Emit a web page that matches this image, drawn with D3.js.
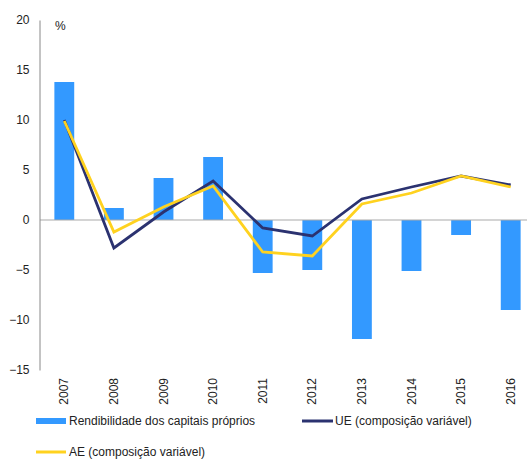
<!DOCTYPE html>
<html>
<head>
  <meta charset="utf-8" />
  <title>Rendibilidade</title>
  <script type="text/javascript" src="https://cdn.jsdelivr.net/npm/d3@7"></script>
  <style type="text/css">
  body {
    margin: 0;
    font-family: Arial, "Liberation Sans", sans-serif;
    font-size: 12px;
  }
  text { fill: #222; }
  </style>
</head>
<body>
  <script type="text/javascript">
    var years = ['2007', '2008', '2009', '2010', '2011', '2012', '2013', '2014', '2015', '2016']
    var rcp = [13.8, 1.2, 4.2, 6.3, -5.3, -5.0, -11.9, -5.1, -1.5, -9.0]
    var ue = [10.0, -2.8, 0.8, 3.9, -0.8, -1.6, 2.1, 3.3, 4.4, 3.5]
    var ae = [9.9, -1.2, 1.3, 3.4, -3.2, -3.6, 1.6, 2.7, 4.4, 3.3]
    var yTicks = [-15, -10, -5, 0, 5, 10, 15, 20]
    var names = ['Rendibilidade dos capitais próprios', 'UE (composição variável)', 'AE (composição variável)']

    var w = 527, h = 459

    var x = d3.scaleBand().domain(years).range([39.5, 535.5]).paddingInner(0.6).paddingOuter(0.3),
        y = d3.scaleLinear().domain([-15, 20]).range([370, 20])

    var svg = d3.select(document.body)
      .append('svg')
      .attr('width', w)
      .attr('height', h)

    // bars
    svg.selectAll('rect.bar')
      .data(rcp)
    .enter().append('rect')
      .attr('class', 'bar')
      .attr('x', function(d, i) { return x(years[i]) })
      .attr('width', x.bandwidth())
      .attr('y', function(d) { return y(Math.max(0, d)) })
      .attr('height', function(d) { return Math.abs(y(d) - y(0)) })
      .attr('fill', '#3399FF')

    // zero line
    svg.append('line')
      .attr('x1', 40).attr('x2', w)
      .attr('y1', y(0)).attr('y2', y(0))
      .attr('stroke', '#aaa').attr('stroke-width', 1.2)

    // y axis
    var yAxis = svg.append('g')
      .attr('transform', 'translate(39.5,0)')
      .call(d3.axisLeft(y).tickValues(yTicks).tickSize(0).tickPadding(10))
    yAxis.select('.domain').attr('stroke', '#888')
    yAxis.selectAll('text').attr('font-size', 12).attr('font-family', 'Arial, "Liberation Sans", sans-serif').attr('fill', '#222')

    // x labels
    svg.selectAll('text.year')
      .data(years)
    .enter().append('text')
      .attr('class', 'year')
      .attr('transform', function(d) { return 'translate(' + (x(d) + x.bandwidth() / 2 + 4) + ',378) rotate(-90)' })
      .attr('text-anchor', 'end')
      .text(function(d) { return d })

    var line = d3.line()
      .x(function(d, i) { return x(years[i]) + x.bandwidth() / 2 })
      .y(function(d) { return y(d) })

    svg.append('path').datum(ue)
      .attr('d', line)
      .attr('fill', 'none')
      .attr('stroke', '#2B3270')
      .attr('stroke-width', 2.8)

    svg.append('path').datum(ae)
      .attr('d', line)
      .attr('fill', 'none')
      .attr('stroke', '#FFD21F')
      .attr('stroke-width', 2.8)

    svg.append('text')
      .attr('x', 55).attr('y', 30)
      .text('%')

    // legend
    var lg = svg.append('g')
    lg.append('rect').attr('x', 36).attr('y', 418).attr('width', 30).attr('height', 6).attr('fill', '#3399FF')
    lg.append('text').attr('x', 69).attr('y', 425).text(names[0])
    lg.append('line').attr('x1', 302).attr('x2', 333).attr('y1', 421).attr('y2', 421)
      .attr('stroke', '#2B3270').attr('stroke-width', 3)
    lg.append('text').attr('x', 335).attr('y', 425).text(names[1])
    lg.append('line').attr('x1', 36).attr('x2', 66).attr('y1', 452).attr('y2', 452)
      .attr('stroke', '#FFD21F').attr('stroke-width', 3)
    lg.append('text').attr('x', 69).attr('y', 456).text(names[2])
  </script>
</body>
</html>
